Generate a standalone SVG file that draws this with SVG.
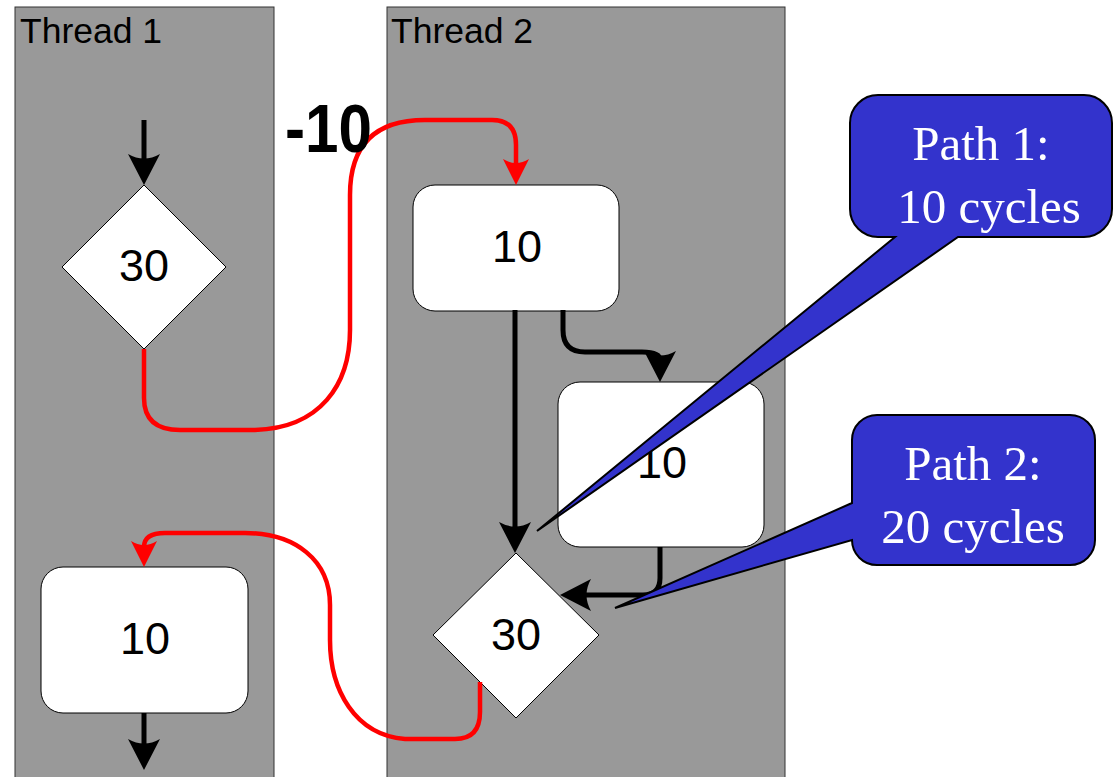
<svg xmlns="http://www.w3.org/2000/svg" width="1115" height="777" viewBox="0 0 1115 777">
<style>
.lane{fill:#999999;stroke:#333333;stroke-width:1}
.lbl{font-family:"Liberation Sans",Arial,sans-serif;font-size:35.5px;fill:#000}
.node{fill:#ffffff;stroke:#000;stroke-width:1}
.num{font-family:"Liberation Sans",Arial,sans-serif;font-size:45px;fill:#000;text-anchor:middle}
.blk{fill:none;stroke:#000;stroke-width:5}
.red{fill:none;stroke:#ff0000;stroke-width:4.5}
.call{fill:#3333cc;stroke:#000;stroke-width:2}
.ct{font-family:"Liberation Serif","Times New Roman",serif;font-size:49px;fill:#ffffff;text-anchor:middle}
</style>
<defs>
<marker id="ab" markerUnits="userSpaceOnUse" orient="auto" refX="0" refY="0" markerWidth="40" markerHeight="40" overflow="visible">
<path d="M22,0 L-9,-16 Q0,0 -9,16 Z" fill="#000"/>
</marker>
<marker id="ar" markerUnits="userSpaceOnUse" orient="auto" refX="0" refY="0" markerWidth="40" markerHeight="40" overflow="visible">
<path d="M20,0 L-6,-13 Q2,0 -6,13 Z" fill="#ff0000"/>
</marker>
</defs>
<g id="lane1">
<rect class="lane" x="15" y="7" width="259" height="780"/>
<text class="lbl" x="20" y="43">Thread 1</text>
</g>
<g id="lane2">
<rect class="lane" x="387" y="7" width="398" height="780"/>
<text class="lbl" x="391" y="43">Thread 2</text>
</g>
<g id="d1">
<polygon class="node" points="144,185 226,267 144,349 62,267"/>
<text class="num" x="144" y="281">30</text>
</g>
<g id="boxA">
<rect class="node" x="413" y="185" width="206" height="126" rx="22"/>
<text class="num" x="517" y="262">10</text>
</g>
<g id="boxB">
<rect class="node" x="558" y="382" width="206" height="165" rx="22"/>
<text class="num" x="662" y="478">10</text>
</g>
<g id="d2">
<polygon class="node" points="516,553 599,635 516,718 433,635"/>
<text class="num" x="516" y="650">30</text>
</g>
<g id="boxC">
<rect class="node" x="41" y="567" width="207" height="146" rx="22"/>
<text class="num" x="145" y="654">10</text>
</g>
<g id="connectors">
<path class="blk" d="M144,120 L144,163" marker-end="url(#ab)"/>
<path class="blk" d="M144,713 L144,748" marker-end="url(#ab)"/>
<path class="blk" d="M515,310 L515,531" marker-end="url(#ab)"/>
<path class="blk" d="M563,310 L563,330 Q563,352 585,352 L642,352 Q660,352 660,360" marker-end="url(#ab)"/>
<path class="blk" d="M660,547 L660,578 Q660,595 643,595 L582,595" marker-end="url(#ab)"/>
<path class="red" d="M144,349 L144,398 Q144,430 180,430 L255,430 C320,428 350,385 350,330 L350,195 Q350,120 425,120 L492,120 Q516,120 516,145 L516,165" marker-end="url(#ar)"/>
<path class="red" d="M480,682 L480,712 Q480,739 455,739 L405,739 C355,735 330,690 330,640 L330,605 C330,560 295,533 245,533 L165,533 Q144,533 144,547" marker-end="url(#ar)"/>
</g>
<g id="minus10">
<text x="285" y="152" font-family="Liberation Sans,Arial,sans-serif" font-size="69" font-weight="bold" textLength="87" lengthAdjust="spacingAndGlyphs">-10</text>
</g>
<g id="callout1">
<path class="call" d="M878,95 L1084,95 A28,28 0 0 1 1112,123 L1112,209 A28,28 0 0 1 1084,237 L958,237 L537,531 L895,237 L878,237 A28,28 0 0 1 850,209 L850,123 A28,28 0 0 1 878,95 Z"/>
<text class="ct" x="981" y="160">Path 1:</text>
<text class="ct" x="989" y="223">10 cycles</text>
</g>
<g id="callout2">
<path class="call" d="M877,415 L1070,415 A25,25 0 0 1 1095,440 L1095,540 A25,25 0 0 1 1070,565 L877,565 A25,25 0 0 1 852,540 L615,608 L852,503 L852,440 A25,25 0 0 1 877,415 Z"/>
<text class="ct" x="973" y="480">Path 2:</text>
<text class="ct" x="973" y="543">20 cycles</text>
</g>
</svg>
